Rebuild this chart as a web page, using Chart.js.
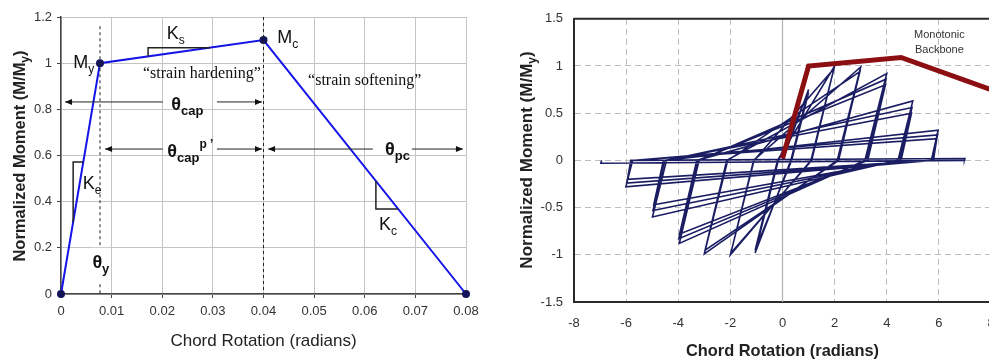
<!DOCTYPE html>
<html>
<head>
<meta charset="utf-8">
<script src="https://cdn.jsdelivr.net/npm/chart.js@4"></script>
<style>
html, body { margin: 0; padding: 0; background: #fff; overflow: hidden; width: 989px; height: 360px; }
#backbone { position: absolute; left: 0; top: 0; }
#cyclic { position: absolute; left: 497px; top: 0; }
</style>
</head>
<body>
<canvas id="backbone" width="490" height="360"></canvas>
<canvas id="cyclic" width="520" height="360"></canvas>
<script>
// left: idealised backbone curve
var backboneX = [0, 0.0077, 0.04, 0.08];
var backboneY = [0, 1.0, 1.1, 0];
var backboneXTicks = [0, 0.01, 0.02, 0.03, 0.04, 0.05, 0.06, 0.07, 0.08];
var backboneYTicks = [0, 0.2, 0.4, 0.6, 0.8, 1, 1.2];

// right: monotonic backbone + cyclic response
var monotonicX = [0, 1.0, 4.55, 8];
var monotonicY = [0.02, 1.0, 1.09, 0.75];
var cyclicX = [0, 1, 0.32, -1.05, -0.16, 1, 0.35, -1.05, -0.19,
  2, 1.09, -2, -1.09, 1.97, 1.12, -1.98, -1.11,
  3, 2.1, -3, -2.1, 2.97, 2.15, -2.97, -2.14,
  4, 3.16, -3.96, -3.2, 3.97, 3.22, -3.98, -3.25, 3.95, 3.27, -3.95, -3.29,
  5, 4.43, -4.99, -4.45, 4.97, 4.49, -4.97, -4.52, 4.95, 4.55, -4.94, -4.57,
  5.97, 5.71, -6.01, -5.75, 5.95, 5.75, -5.98, -5.78, 5.92, 5.79, -5.95, -5.82,
  7, 6.98, -6.97, -6.94];
var cyclicY = [0, 0.75, 0, -0.98, 0, 0.72, 0, -0.95, 0,
  1.0, 0, -1.0, 0, 0.97, 0, -0.98, 0,
  0.99, 0, -0.99, 0, 0.94, 0, -0.95, 0,
  0.92, 0, -0.88, 0, 0.86, 0, -0.83, 0, 0.8, 0, -0.78, 0,
  0.63, 0, -0.6, 0, 0.56, 0, -0.53, 0, 0.5, 0, -0.47, 0,
  0.32, 0, -0.28, 0, 0.27, 0, -0.24, 0, 0.23, 0, -0.2, 0,
  0.02, 0, -0.03, 0];
var cyclicXTicks = [-8, -6, -4, -2, 0, 2, 4, 6, 8];
var cyclicYTicks = [-1.5, -1, -0.5, 0, 0.5, 1, 1.5];

function pts(xs, ys) {
  return xs.map(function (x, i) { return { x: x, y: ys[i] }; });
}

function onModel(x) {
  for (var i = 1; i < backboneX.length; i++) {
    if (x <= backboneX[i]) {
      var t = (x - backboneX[i - 1]) / (backboneX[i] - backboneX[i - 1]);
      return backboneY[i - 1] + t * (backboneY[i] - backboneY[i - 1]);
    }
  }
  return backboneY[backboneY.length - 1];
}

// text made of pieces: [text, font, dy]
function rich(c, x, y, parts, align) {
  var w = 0;
  parts.forEach(function (p) { c.font = p[1]; w += c.measureText(p[0]).width; });
  var cx = align === 'center' ? x - w / 2 : (align === 'right' ? x - w : x);
  c.textAlign = 'left';
  c.textBaseline = 'alphabetic';
  parts.forEach(function (p) {
    c.font = p[1];
    c.fillText(p[0], cx, y + (p[2] || 0));
    cx += c.measureText(p[0]).width;
  });
  return w;
}

function seg(c, x1, y1, x2, y2) {
  c.beginPath(); c.moveTo(x1, y1); c.lineTo(x2, y2); c.stroke();
}

function head(c, x, y, dir) {
  c.beginPath();
  c.moveTo(x, y);
  c.lineTo(x - dir * 7, y - 3);
  c.lineTo(x - dir * 7, y + 3);
  c.closePath();
  c.fill();
}

function span(c, x1, x2, y, g1, g2) {
  seg(c, x1, y, g1, y);
  seg(c, g2, y, x2, y);
  head(c, x1, y, -1);
  head(c, x2, y, 1);
}

function plain(v) { return String(v); }

var SANS = 'Liberation Sans';
var SERIF = 'Liberation Serif';

var backboneNotes = {
  id: 'backboneNotes',
  afterDraw: function (chart) {
    var c = chart.ctx, xs = chart.scales.x, ys = chart.scales.y;
    var X = function (v) { return xs.getPixelForValue(v); };
    var Y = function (v) { return ys.getPixelForValue(v); };
    c.save();
    c.strokeStyle = '#222';
    c.fillStyle = '#111';

    // dashed guides at yield and capping
    c.lineWidth = 1;
    c.setLineDash([3, 3]);
    seg(c, X(0.0077), Y(1.16), X(0.0077), Y(0));
    seg(c, X(0.04), Y(1.2), X(0.04), Y(0));
    c.setLineDash([]);

    // slope brackets
    c.lineWidth = 1.5;
    [[0.0024, 0.0044], [0.0172, 0.0294], [0.0622, 0.0666]].forEach(function (b) {
      c.beginPath();
      c.moveTo(X(b[0]), Y(onModel(b[0])));
      c.lineTo(X(b[0]), Y(onModel(b[1])));
      c.lineTo(X(b[1]), Y(onModel(b[1])));
      c.stroke();
    });

    // range arrows
    c.lineWidth = 1;
    span(c, X(0.0008), X(0.0397), Y(0.832), X(0.0201), X(0.0308));
    span(c, X(0.0087), X(0.0397), Y(0.628), X(0.0201), X(0.0308));
    span(c, X(0.0409), X(0.0794), Y(0.628), X(0.0616), X(0.0693));

    var big = 'normal 18px ' + SANS, sub = 'normal 12px ' + SANS;
    var tb = 'bold 18px ' + SANS, ts = 'bold 13px ' + SANS;
    rich(c, X(0.0024), Y(0.979), [['M', big], ['y', sub, 5]]);
    rich(c, X(0.0427), Y(1.087), [['M', big], ['c', sub, 5]]);
    rich(c, X(0.0209), Y(1.105), [['K', big], ['s', sub, 5]]);
    rich(c, X(0.0043), Y(0.455), [['K', big], ['e', sub, 5]]);
    rich(c, X(0.0628), Y(0.277), [['K', big], ['c', sub, 5]]);

    rich(c, X(0.0218), Y(0.797), [['θ', tb], ['cap', ts, 5]]);
    rich(c, X(0.0210), Y(0.594), [['θ', tb], ['cap', ts, 5], ['p ’', 'bold 12px ' + SANS, -9]]);
    rich(c, X(0.0640), Y(0.602), [['θ', tb], ['pc', ts, 5]]);

    // θy sits on the dashed line with a white patch behind it
    c.fillStyle = '#fff';
    c.fillRect(X(0.0060), Y(0.2), X(0.0096) - X(0.0060), Y(0.05) - Y(0.2));
    c.fillStyle = '#111';
    rich(c, X(0.0062), Y(0.113), [['θ', tb], ['y', ts, 5]]);

    c.font = '16px ' + SERIF;
    c.fillText('\u201Cstrain hardening\u201D', X(0.0162), Y(0.934));
    c.fillText('\u201Cstrain softening\u201D', X(0.0488), Y(0.906));

    // axis titles
    c.fillStyle = '#222';
    rich(c, (chart.chartArea.left + chart.chartArea.right) / 2, 346,
      [['Chord Rotation (radians)', '17px ' + SANS]], 'center');
    c.translate(25, 156);
    c.rotate(-Math.PI / 2);
    rich(c, 0, 0, [['Normalized Moment (M/M', 'bold 16.5px ' + SANS],
      ['y', 'bold 12px ' + SANS, 4], [')', 'bold 16.5px ' + SANS]], 'center');
    c.restore();
  }
};

var tickFont = { family: SANS, size: 13 };

new Chart(document.getElementById('backbone'), {
  type: 'scatter',
  data: {
    datasets: [{
      data: pts(backboneX, backboneY),
      showLine: true,
      clip: false,
      borderColor: '#1414e6',
      borderWidth: 2,
      pointRadius: 3,
      pointBackgroundColor: '#14145a',
      pointBorderColor: '#14145a'
    }]
  },
  options: {
    responsive: false,
    animation: false,
    devicePixelRatio: 1,
    layout: { padding: { left: 0, top: 17, right: 24, bottom: 0 } },
    plugins: { legend: { display: false }, tooltip: { enabled: false } },
    scales: {
      x: {
        type: 'linear', min: 0, max: 0.08,
        afterBuildTicks: function (s) { s.ticks = backboneXTicks.map(function (v) { return { value: v }; }); },
        afterFit: function (s) { s.height = 66; },
        grid: { color: '#c4c4c4', tickLength: 4, tickColor: '#444' },
        border: { color: '#444', width: 1.5 },
        ticks: { color: '#333', font: tickFont, padding: 6, maxRotation: 0, autoSkip: false, callback: plain }
      },
      y: {
        type: 'linear', min: 0, max: 1.2,
        afterBuildTicks: function (s) { s.ticks = backboneYTicks.map(function (v) { return { value: v }; }); },
        afterFit: function (s) { s.width = 61; },
        grid: { color: '#c4c4c4', tickLength: 4, tickColor: '#444' },
        border: { color: '#444', width: 1.5 },
        ticks: { color: '#333', font: tickFont, padding: 5, callback: plain }
      }
    }
  },
  plugins: [backboneNotes]
});

var cyclicNotes = {
  id: 'cyclicNotes',
  beforeDatasetsDraw: function (chart) {
    var c = chart.ctx, a = chart.chartArea, x0 = chart.scales.x.getPixelForValue(0);
    c.save();
    c.strokeStyle = '#b0b0b0';
    c.lineWidth = 1.2;
    seg(c, x0, a.top, x0, a.bottom);
    c.restore();
  },
  afterDraw: function (chart) {
    var c = chart.ctx, a = chart.chartArea, xs = chart.scales.x, ys = chart.scales.y;
    c.save();
    c.strokeStyle = '#2a2a2a';
    c.lineWidth = 2;
    seg(c, a.left, a.top, a.right, a.top);
    c.fillStyle = '#333';
    c.font = '11px ' + SANS;
    c.textAlign = 'center';
    c.fillText('Monotonic', xs.getPixelForValue(6.02), ys.getPixelForValue(1.30));
    c.fillText('Backbone', xs.getPixelForValue(6.02), ys.getPixelForValue(1.14));
    c.fillStyle = '#222';
    rich(c, xs.getPixelForValue(0), 356, [['Chord Rotation (radians)', 'bold 16.4px ' + SANS]], 'center');
    c.translate(35, 160);
    c.rotate(-Math.PI / 2);
    rich(c, 0, 0, [['Normalized Moment (M/M', 'bold 17px ' + SANS],
      ['y', 'bold 12px ' + SANS, 4], [')', 'bold 17px ' + SANS]], 'center');
    c.restore();
  }
};

new Chart(document.getElementById('cyclic'), {
  type: 'scatter',
  data: {
    datasets: [{
      data: pts(monotonicX, monotonicY),
      showLine: true,
      borderColor: '#8c0f12',
      borderWidth: 5,
      borderJoinStyle: 'miter',
      pointRadius: 0
    }, {
      data: pts(cyclicX, cyclicY),
      showLine: true,
      borderColor: '#1b1d63',
      borderWidth: 1.6,
      pointRadius: 0
    }]
  },
  options: {
    responsive: false,
    animation: false,
    devicePixelRatio: 1,
    layout: { padding: { left: 0, top: 18, right: 26, bottom: 0 } },
    plugins: { legend: { display: false }, tooltip: { enabled: false } },
    scales: {
      x: {
        type: 'linear', min: -8, max: 8,
        afterBuildTicks: function (s) { s.ticks = cyclicXTicks.map(function (v) { return { value: v }; }); },
        afterFit: function (s) { s.height = 58; },
        grid: { color: '#bdbdbd', drawTicks: false },
        border: { color: '#2a2a2a', width: 2, dash: [6, 4] },
        ticks: { color: '#333', font: tickFont, padding: 14, maxRotation: 0, autoSkip: false, callback: plain }
      },
      y: {
        type: 'linear', min: -1.5, max: 1.5,
        afterBuildTicks: function (s) { s.ticks = cyclicYTicks.map(function (v) { return { value: v }; }); },
        afterFit: function (s) { s.width = 77; },
        grid: { color: '#bdbdbd', drawTicks: false },
        border: { color: '#2a2a2a', width: 2, dash: [6, 4] },
        ticks: { color: '#333', font: tickFont, padding: 11, callback: plain }
      }
    }
  },
  plugins: [cyclicNotes]
});
</script>
</body>
</html>
